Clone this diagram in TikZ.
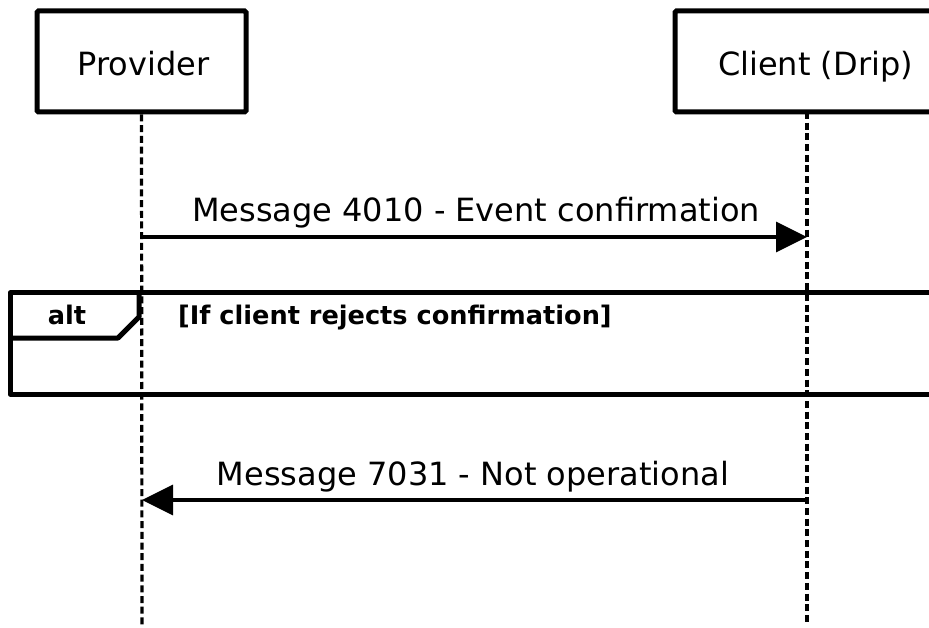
\documentclass[tikz,border=0pt]{standalone}
\usepackage{fontspec}
\setmainfont{DejaVu Sans}
\usetikzlibrary{arrows.meta}
\begin{document}
\begin{tikzpicture}[x=1pt,y=-1pt,
  actor/.style={draw,line width=5pt,rounded corners=1.5pt,minimum height=101pt,inner sep=0pt,text height=29pt,text depth=0pt,font=\fontsize{32}{36}\selectfont},
  lifeline/.style={line width=3.2pt,dash pattern=on 7pt off 3.7pt},
  msg/.style={line width=3.5pt,-{Triangle[length=31pt,width=30pt]}},
  msglabel/.style={anchor=base,inner sep=0pt,font=\fontsize{32}{36}\selectfont},
  frame/.style={line width=5pt,line join=round},
  framelabel/.style={inner sep=0pt,font=\bfseries\fontsize{25.6}{30}\selectfont}]
\useasboundingbox (0,0) rectangle (929,628);
\begin{scope}
\clip (0,0) rectangle (929,628);
% alt frame
\draw[frame] (10,293) -- (955,293) -- (955,394) -- (10,394) -- cycle;
\draw[frame] (10,338) -- (118,338) -- (139,317) -- (139,293);
\node[framelabel] (alt) at (67,315) {alt};
\node[framelabel,anchor=base west] (cond) at (178,324.5) {[If client rejects confirmation]};
% actors
\node[actor,minimum width=209pt] (provider) at (141.5,61.5) {\hspace*{4pt}Provider};
\node[actor,minimum width=264pt] (client) at (807,61.5) {\hspace*{17pt}Client (Drip)};
\coordinate (pend) at (142,625);
\coordinate (cstart) at (807,112);
\coordinate (cend) at (807,625);
\draw[lifeline] (provider.south) -- (pend);
\draw[lifeline] (cstart) -- (cend);
% messages
\coordinate (p1) at (142,237);
\coordinate (c1) at (807,237);
\coordinate (p2) at (142,500);
\coordinate (c2) at (807,500);
\draw[msg] (p1) -- (c1);
\node[msglabel] (m1) at (476,222) {Message 4010 - Event confirmation};
\draw[msg] (c2) -- (p2);
\node[msglabel] (m2) at (473,485) {Message 7031 - Not operational};
\end{scope}
\end{tikzpicture}
\end{document}
